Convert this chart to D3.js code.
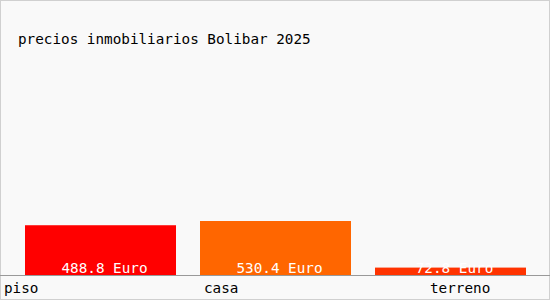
<!DOCTYPE html>
<html>
<head>
<meta charset="utf-8">
<script src="https://cdn.jsdelivr.net/npm/d3@7"></script>
<style>
  body { margin: 0; background: #fff; }
  text { font-family: "DejaVu Sans Mono", monospace; }
</style>
</head>
<body>
<svg id="chart" width="550" height="300"></svg>
<script>
var categories = ["piso", "casa", "terreno"];
var values = [488.8, 530.4, 72.8];
var colors = ["#ff0000", "#ff6600", "#ff3300"];
var title = "precios inmobiliarios Bolibar 2025";

var svg = d3.select("#chart"),
    width = +svg.attr("width"),
    height = +svg.attr("height");

svg.append("rect")
    .attr("x", 0.5).attr("y", 0.5)
    .attr("width", width - 1).attr("height", height - 1)
    .attr("fill", "#f9f9f9")
    .attr("stroke", "#d0d0d0");

svg.append("text")
    .attr("x", 18)
    .attr("y", 44)
    .attr("font-size", "14.3px")
    .attr("fill", "#000")
    .text(title);

var baseline = 275;

var x = d3.scaleBand()
    .domain(categories)
    .range([25, 526])
    .paddingInner(24 / 175)
    .paddingOuter(0);

var y = d3.scaleLinear()
    .domain([0, 530.4])
    .range([baseline, 221]);

svg.selectAll(".bar")
    .data(values)
    .enter().append("rect")
      .attr("class", "bar")
      .attr("x", function(d, i) { return x(categories[i]); })
      .attr("y", function(d) { return y(d); })
      .attr("width", x.bandwidth())
      .attr("height", function(d) { return baseline - y(d); })
      .attr("fill", function(d, i) { return colors[i]; });

svg.selectAll(".val")
    .data(values)
    .enter().append("text")
      .attr("class", "val")
      .attr("x", function(d, i) { return x(categories[i]) + x.bandwidth() / 2 + 4; })
      .attr("y", 273)
      .attr("text-anchor", "middle")
      .attr("font-size", "14.3px")
      .attr("fill", "#fff")
      .text(function(d) { return d.toFixed(1) + " Euro"; });

svg.append("line")
    .attr("x1", 0).attr("x2", width)
    .attr("y1", baseline + 0.5).attr("y2", baseline + 0.5)
    .attr("stroke", "#999");

var labelX = [4, 204, 430];
svg.selectAll(".cat")
    .data(categories)
    .enter().append("text")
      .attr("class", "cat")
      .attr("x", function(d, i) { return labelX[i]; })
      .attr("y", 293)
      .attr("font-size", "14.3px")
      .attr("fill", "#000")
      .text(function(d) { return d; });
</script>
</body>
</html>
